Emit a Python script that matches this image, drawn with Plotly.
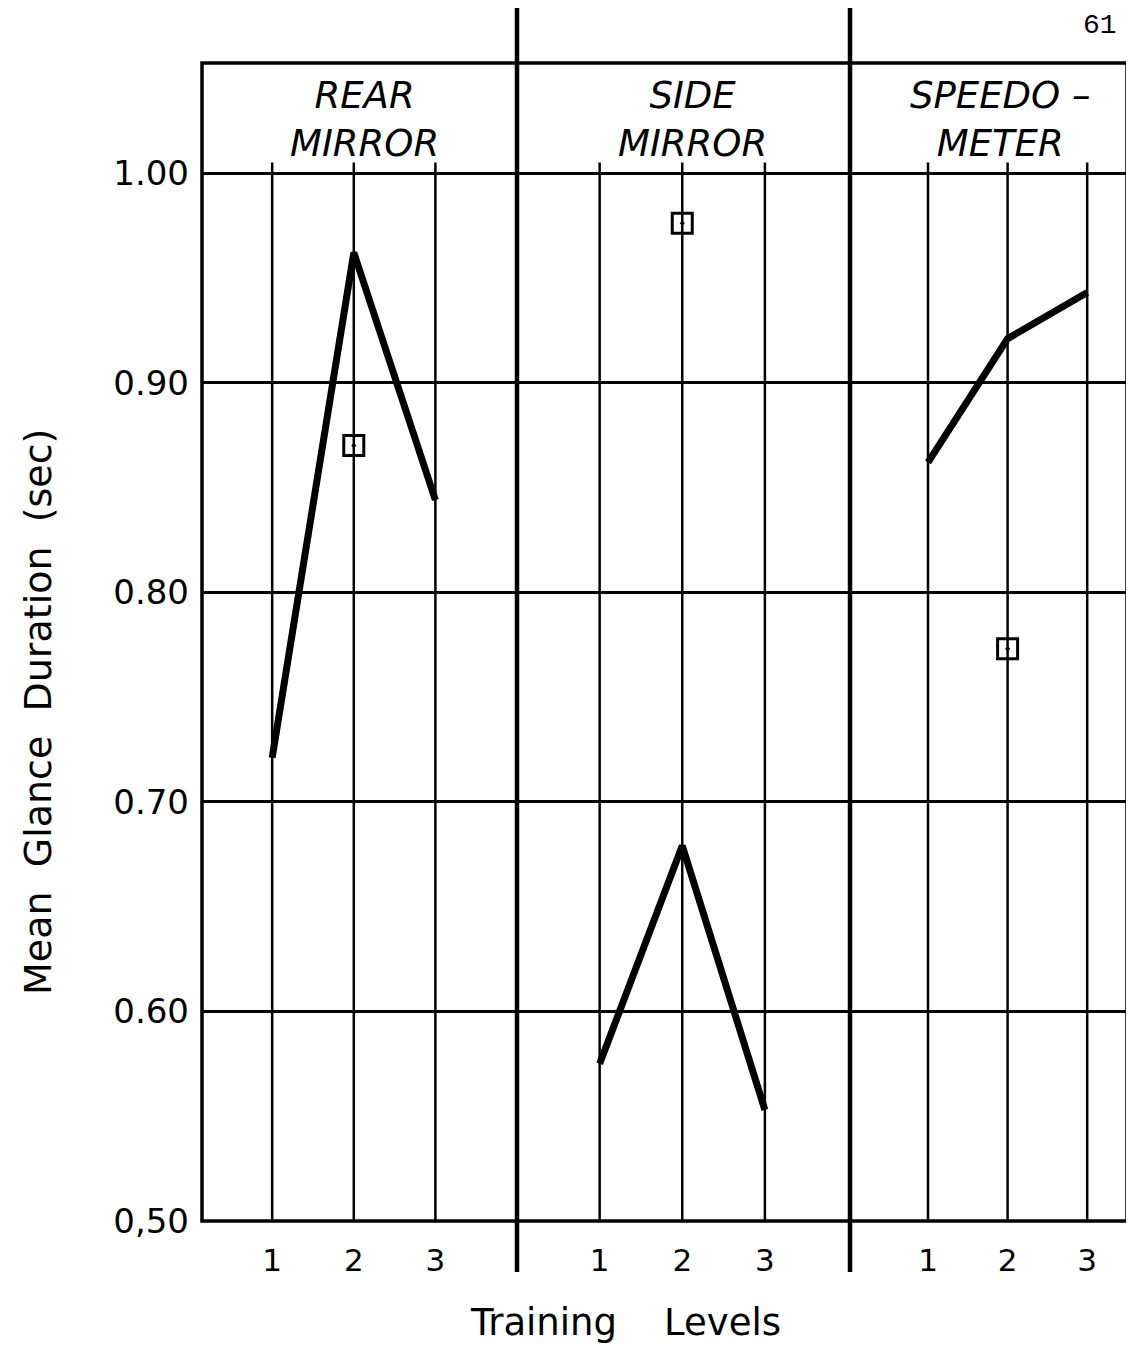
import plotly.graph_objects as go
from plotly.subplots import make_subplots

# ---------------- data ----------------
levels = [1, 2, 3]
level_labels = ["1", "2", "3"]
panel_titles = ["REAR<br>MIRROR", "SIDE<br>MIRROR", "SPEEDO \u2013<br>METER"]
rear_mirror = [0.721, 0.962, 0.844]
side_mirror = [0.575, 0.679, 0.553]
speedometer = [0.862, 0.921, 0.943]
square_levels = [2, 2, 2]
square_values = [0.870, 0.976, 0.773]
y_ticks = [0.50, 0.60, 0.70, 0.80, 0.90, 1.00]
y_tick_labels = ["0,50", "0.60", "0.70", "0.80", "0.90", "1.00"]
y_title = "Mean\u00a0\u00a0Glance\u00a0\u00a0Duration\u00a0\u00a0(sec)"
x_title = "Training\u00a0\u00a0\u00a0\u00a0Levels"
page_number = "61"

series = [rear_mirror, side_mirror, speedometer]

# ---------------- layout helpers ----------------
W, H = 1134, 1348
OFF = 8                      # page body margin
PL, PR, PT, PB = 202, 1127, 63, 1221   # wanted plot-area edges on the page
L = PL - OFF
T = PT - OFF
R = (W + OFF) - PR
B = (H + OFF) - PB
plot_w = PR - PL
plot_h = PB - PT


def px(xp):
    return (xp - PL) / plot_w


def py(yp):
    return (PB - yp) / plot_h


col_widths = [315, 333, 277]
x_ranges = [[0.14, 4.0], [0.0, 4.03], [0.02, 3.5]]
y_range = [0.5, 1.0525]
FONT = "DejaVu Sans"

fig = make_subplots(rows=1, cols=3, shared_yaxes=True, horizontal_spacing=0,
                    column_widths=col_widths)

for i, vals in enumerate(series):
    fig.add_trace(go.Scatter(x=levels, y=vals, mode="lines",
                             line=dict(color="black", width=7),
                             showlegend=False, hoverinfo="skip"), row=1, col=i + 1)
    fig.add_trace(go.Scatter(x=[square_levels[i]], y=[square_values[i]], mode="markers",
                             marker=dict(symbol="square-open-dot", size=20, color="black",
                                         line=dict(color="black", width=3)),
                             showlegend=False, hoverinfo="skip"), row=1, col=i + 1)

    xref = "x" if i == 0 else f"x{i + 1}"
    # vertical grid lines at each training level, starting at the 1.00 line
    for lv in levels:
        fig.add_shape(type="line", xref=xref, yref="y", x0=lv, x1=lv, y0=0.5, y1=1.005,
                      line=dict(color="black", width=2.5), layer="below")
    # panel title
    fig.add_annotation(text="<i>" + panel_titles[i] + "</i>", xref=f"{xref} domain",
                       yref="paper", x=0.5, y=py(120), xanchor="center", yanchor="middle",
                       xshift=[5, 9, 11][i],
                       showarrow=False, font=dict(family=FONT, size=37, color="black"))

    fig.update_xaxes(range=x_ranges[i], tickvals=levels, ticktext=level_labels,
                     showgrid=False, zeroline=False, showline=False, ticks="",
                     ticklabelstandoff=18,
                     tickfont=dict(family=FONT, size=31, color="black"),
                     row=1, col=i + 1)

fig.update_yaxes(range=y_range, tickvals=y_ticks, ticktext=y_tick_labels,
                 showgrid=True, gridcolor="black", gridwidth=2.5, zeroline=False,
                 showline=False, ticks="", ticklabelstandoff=12,
                 tickfont=dict(family=FONT, size=34, color="black"))

# outer frame
fig.add_shape(type="rect", xref="paper", yref="paper", x0=0, x1=1, y0=0, y1=1,
              line=dict(color="black", width=3.5), layer="above")

# thick panel dividers extending beyond the frame
for ax in ["xaxis", "xaxis2"]:
    xd = fig.layout[ax].domain[1]
    fig.add_shape(type="line", xref="paper", yref="paper", x0=xd, x1=xd,
                  y0=py(1272), y1=py(8),
                  line=dict(color="black", width=4.5), layer="above")

# y-axis title
fig.add_annotation(text=y_title, xref="paper", yref="paper",
                   x=px(38), y=py(712),
                   xanchor="center", yanchor="middle", textangle=-90, showarrow=False,
                   font=dict(family=FONT, size=38, color="black"))
# x-axis title
fig.add_annotation(text=x_title, xref="paper", yref="paper",
                   x=px(625), y=py(1322),
                   xanchor="center", yanchor="middle", showarrow=False,
                   font=dict(family=FONT, size=37, color="black"))
# page number
fig.add_annotation(text=page_number, xref="paper", yref="paper",
                   x=px(1100), y=py(26),
                   xanchor="center", yanchor="middle", showarrow=False,
                   font=dict(family="Liberation Mono", size=28, color="black"))

fig.update_layout(width=W, height=H, margin=dict(l=L, r=R, t=T, b=B),
                  paper_bgcolor="white", plot_bgcolor="white", showlegend=False)

fig.write_html("out.html")
